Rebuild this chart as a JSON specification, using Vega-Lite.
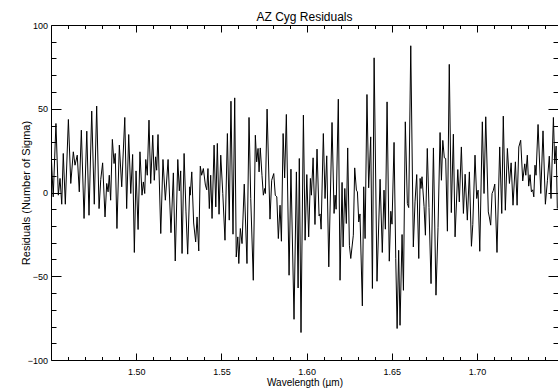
{
"$schema": "https://vega.github.io/schema/vega-lite/v6.json",
"width": 507,
"height": 335,
"autosize": {"type": "none"},
"padding": {"left": 51, "top": 25, "right": 0, "bottom": 29},
"background": "white",
"title": {"text": "AZ Cyg Residuals", "font": "Liberation Sans", "fontSize": 12, "fontWeight": "normal", "color": "black", "anchor": "middle", "offset": -3},
"config": {
  "view": {"stroke": "black", "strokeWidth": 1},
  "axis": {"domain": false, "grid": false, "tickColor": "black", "tickWidth": 1, "labelColor": "black", "labelFont": "Liberation Sans", "labelFontSize": 9, "titleFont": "Liberation Sans", "titleFontWeight": "normal", "titleColor": "black", "labelOverlap": false, "labelFlush": false, "labelBound": false}
},
"data": {"values": [
{"wavelength":1.4500,"residual":25.3},{"wavelength":1.4513,"residual":-2.6},{"wavelength":1.4529,"residual":41.2},{"wavelength":1.4543,"residual":-1.6},{"wavelength":1.4553,"residual":8.4},{"wavelength":1.4563,"residual":-7.0},{"wavelength":1.4572,"residual":23.3},{"wavelength":1.4584,"residual":-7.0},{"wavelength":1.4602,"residual":43.6},{"wavelength":1.4616,"residual":5.4},{"wavelength":1.4631,"residual":24.3},{"wavelength":1.4641,"residual":16.3},{"wavelength":1.4654,"residual":22.3},{"wavelength":1.4666,"residual":0.4},{"wavelength":1.4678,"residual":37.2},{"wavelength":1.4694,"residual":-15.5},{"wavelength":1.4710,"residual":36.6},{"wavelength":1.4723,"residual":-13.6},{"wavelength":1.4739,"residual":48.6},{"wavelength":1.4754,"residual":-7.0},{"wavelength":1.4768,"residual":51.6},{"wavelength":1.4782,"residual":-9.6},{"wavelength":1.4792,"residual":7.8},{"wavelength":1.4803,"residual":17.7},{"wavelength":1.4817,"residual":-14.6},{"wavelength":1.4827,"residual":5.4},{"wavelength":1.4835,"residual":0.4},{"wavelength":1.4842,"residual":10.3},{"wavelength":1.4850,"residual":-4.6},{"wavelength":1.4860,"residual":31.7},{"wavelength":1.4870,"residual":17.3},{"wavelength":1.4877,"residual":23.3},{"wavelength":1.4887,"residual":-21.5},{"wavelength":1.4901,"residual":28.3},{"wavelength":1.4915,"residual":3.4},{"wavelength":1.4933,"residual":44.8},{"wavelength":1.4944,"residual":-9.6},{"wavelength":1.4956,"residual":34.6},{"wavelength":1.4968,"residual":-0.6},{"wavelength":1.4979,"residual":22.7},{"wavelength":1.4989,"residual":-35.8},{"wavelength":1.4999,"residual":12.9},{"wavelength":1.5011,"residual":-22.1},{"wavelength":1.5022,"residual":24.3},{"wavelength":1.5034,"residual":-1.6},{"wavelength":1.5042,"residual":6.3},{"wavelength":1.5050,"residual":-0.6},{"wavelength":1.5056,"residual":19.7},{"wavelength":1.5065,"residual":10.3},{"wavelength":1.5075,"residual":43.2},{"wavelength":1.5085,"residual":5.4},
{"wavelength":1.5097,"residual":34.2},{"wavelength":1.5106,"residual":7.3},{"wavelength":1.5114,"residual":21.3},{"wavelength":1.5120,"residual":13.3},{"wavelength":1.5128,"residual":34.6},{"wavelength":1.5144,"residual":-24.5},{"wavelength":1.5157,"residual":19.7},{"wavelength":1.5171,"residual":-4.6},{"wavelength":1.5187,"residual":19.7},{"wavelength":1.5204,"residual":-24.0},{"wavelength":1.5218,"residual":11.7},{"wavelength":1.5229,"residual":-40.9},{"wavelength":1.5244,"residual":19.7},{"wavelength":1.5253,"residual":1.0},{"wavelength":1.5261,"residual":12.9},{"wavelength":1.5269,"residual":-36.4},{"wavelength":1.5281,"residual":23.3},{"wavelength":1.5292,"residual":-11.6},{"wavelength":1.5302,"residual":-36.8},{"wavelength":1.5314,"residual":3.4},{"wavelength":1.5317,"residual":-1.6},{"wavelength":1.5326,"residual":12.3},{"wavelength":1.5337,"residual":-18.2},{"wavelength":1.5349,"residual":-29.5},{"wavelength":1.5357,"residual":-14.6},{"wavelength":1.5367,"residual":-34.9},{"wavelength":1.5376,"residual":15.7},{"wavelength":1.5384,"residual":10.3},{"wavelength":1.5394,"residual":14.3},{"wavelength":1.5406,"residual":4.4},{"wavelength":1.5414,"residual":1.6},{"wavelength":1.5421,"residual":14.3},{"wavelength":1.5429,"residual":-9.6},{"wavelength":1.5437,"residual":10.3},{"wavelength":1.5445,"residual":-15.5},{"wavelength":1.5457,"residual":28.3},{"wavelength":1.5467,"residual":-8.6},{"wavelength":1.5476,"residual":29.3},{"wavelength":1.5486,"residual":-13.0},{"wavelength":1.5496,"residual":22.3},{"wavelength":1.5508,"residual":-0.6},{"wavelength":1.5521,"residual":-28.5},{"wavelength":1.5535,"residual":35.2},{"wavelength":1.5546,"residual":-16.5},{"wavelength":1.5556,"residual":54.5},{"wavelength":1.5568,"residual":-24.9},{"wavelength":1.5578,"residual":56.5},{"wavelength":1.5587,"residual":-38.5},{"wavelength":1.5596,"residual":-26.5},{"wavelength":1.5602,"residual":-42.4},{"wavelength":1.5611,"residual":-21.5},{"wavelength":1.5621,"residual":-30.5},{"wavelength":1.5634,"residual":5.0},{"wavelength":1.5650,"residual":-42.4},{"wavelength":1.5662,"residual":44.8},{"wavelength":1.5672,"residual":-3.5},
{"wavelength":1.5687,"residual":-52.4},{"wavelength":1.5699,"residual":34.2},{"wavelength":1.5707,"residual":18.3},{"wavelength":1.5715,"residual":26.3},{"wavelength":1.5721,"residual":12.3},{"wavelength":1.5728,"residual":26.6},{"wavelength":1.5738,"residual":10.3},{"wavelength":1.5746,"residual":-1.6},{"wavelength":1.5754,"residual":2.4},{"wavelength":1.5758,"residual":-0.6},{"wavelength":1.5768,"residual":49.8},{"wavelength":1.5785,"residual":-15.9},{"wavelength":1.5795,"residual":7.3},{"wavelength":1.5807,"residual":11.3},{"wavelength":1.5816,"residual":-1.6},{"wavelength":1.5825,"residual":-2.6},{"wavelength":1.5834,"residual":-27.5},{"wavelength":1.5844,"residual":-7.6},{"wavelength":1.5852,"residual":-29.1},{"wavelength":1.5862,"residual":35.2},{"wavelength":1.5871,"residual":8.7},{"wavelength":1.5881,"residual":46.6},{"wavelength":1.5897,"residual":-49.4},{"wavelength":1.5908,"residual":13.9},{"wavelength":1.5926,"residual":-75.7},{"wavelength":1.5940,"residual":12.3},{"wavelength":1.5950,"residual":-57.0},{"wavelength":1.5957,"residual":20.3},{"wavelength":1.5967,"residual":-83.6},{"wavelength":1.5981,"residual":46.2},{"wavelength":1.5991,"residual":-28.5},{"wavelength":1.6001,"residual":10.7},{"wavelength":1.6012,"residual":-26.5},{"wavelength":1.6022,"residual":8.4},{"wavelength":1.6028,"residual":-1.6},{"wavelength":1.6038,"residual":20.7},{"wavelength":1.6049,"residual":-19.1},{"wavelength":1.6061,"residual":25.9},{"wavelength":1.6073,"residual":-14.0},{"wavelength":1.6079,"residual":-12.8},{"wavelength":1.6085,"residual":-21.9},{"wavelength":1.6098,"residual":35.2},{"wavelength":1.6108,"residual":-3.6},{"wavelength":1.6118,"residual":21.9},{"wavelength":1.6130,"residual":-44.4},{"wavelength":1.6149,"residual":41.8},{"wavelength":1.6161,"residual":-12.5},{"wavelength":1.6167,"residual":-1.6},{"wavelength":1.6173,"residual":-10.0},{"wavelength":1.6186,"residual":55.7},{"wavelength":1.6196,"residual":-52.4},{"wavelength":1.6208,"residual":6.0},{"wavelength":1.6214,"residual":-32.5},{"wavelength":1.6224,"residual":2.4},{"wavelength":1.6233,"residual":-18.5},{"wavelength":1.6241,"residual":26.6},{"wavelength":1.6251,"residual":-31.5},{"wavelength":1.6259,"residual":-39.4},
{"wavelength":1.6274,"residual":-25.5},{"wavelength":1.6282,"residual":14.7},{"wavelength":1.6292,"residual":1.4},{"wavelength":1.6298,"residual":0.4},{"wavelength":1.6306,"residual":-17.6},{"wavelength":1.6313,"residual":-12.8},{"wavelength":1.6327,"residual":-67.7},{"wavelength":1.6335,"residual":3.4},{"wavelength":1.6343,"residual":-27.5},{"wavelength":1.6354,"residual":58.5},{"wavelength":1.6364,"residual":2.8},{"wavelength":1.6376,"residual":33.2},{"wavelength":1.6386,"residual":-57.3},{"wavelength":1.6396,"residual":80.4},{"wavelength":1.6413,"residual":-53.0},{"wavelength":1.6431,"residual":7.9},{"wavelength":1.6444,"residual":-35.8},{"wavelength":1.6454,"residual":1.4},{"wavelength":1.6462,"residual":-21.9},{"wavelength":1.6472,"residual":54.1},{"wavelength":1.6485,"residual":-41.0},{"wavelength":1.6494,"residual":-11.2},{"wavelength":1.6501,"residual":-18.9},{"wavelength":1.6513,"residual":29.9},{"wavelength":1.6523,"residual":-39.4},{"wavelength":1.6531,"residual":-81.2},{"wavelength":1.6540,"residual":-34.5},{"wavelength":1.6548,"residual":-79.3},{"wavelength":1.6560,"residual":-25.1},{"wavelength":1.6568,"residual":-58.4},{"wavelength":1.6579,"residual":42.2},{"wavelength":1.6591,"residual":-6.6},{"wavelength":1.6599,"residual":-9.0},{"wavelength":1.6611,"residual":87.6},{"wavelength":1.6626,"residual":-32.5},{"wavelength":1.6636,"residual":-5.6},{"wavelength":1.6646,"residual":10.7},{"wavelength":1.6658,"residual":-39.4},{"wavelength":1.6666,"residual":8.4},{"wavelength":1.6671,"residual":2.4},{"wavelength":1.6677,"residual":9.4},{"wavelength":1.6689,"residual":-8.4},{"wavelength":1.6697,"residual":-25.5},{"wavelength":1.6708,"residual":26.3},{"wavelength":1.6718,"residual":-9.0},{"wavelength":1.6730,"residual":-54.4},{"wavelength":1.6744,"residual":26.6},{"wavelength":1.6759,"residual":-61.3},{"wavelength":1.6771,"residual":-21.0},{"wavelength":1.6783,"residual":35.8},{"wavelength":1.6791,"residual":7.3},{"wavelength":1.6799,"residual":31.1},{"wavelength":1.6808,"residual":20.7},{"wavelength":1.6816,"residual":20.3},{"wavelength":1.6826,"residual":-23.1},{"wavelength":1.6837,"residual":76.5},{"wavelength":1.6849,"residual":-12.0},
{"wavelength":1.6861,"residual":34.8},{"wavelength":1.6871,"residual":-26.5},{"wavelength":1.6887,"residual":13.7},{"wavelength":1.6896,"residual":-5.6},{"wavelength":1.6908,"residual":27.2},{"wavelength":1.6920,"residual":-12.5},{"wavelength":1.6930,"residual":10.9},{"wavelength":1.6943,"residual":-16.5},{"wavelength":1.6955,"residual":12.3},{"wavelength":1.6967,"residual":-32.1},{"wavelength":1.6975,"residual":-19.2},{"wavelength":1.6988,"residual":22.3},{"wavelength":1.6998,"residual":-3.6},{"wavelength":1.7006,"residual":1.4},{"wavelength":1.7016,"residual":-35.1},{"wavelength":1.7031,"residual":42.2},{"wavelength":1.7041,"residual":-0.6},{"wavelength":1.7051,"residual":45.2},{"wavelength":1.7066,"residual":-11.6},{"wavelength":1.7072,"residual":-14.6},{"wavelength":1.7080,"residual":-19.5},{"wavelength":1.7088,"residual":-0.6},{"wavelength":1.7096,"residual":1.4},{"wavelength":1.7104,"residual":5.0},{"wavelength":1.7117,"residual":-35.8},{"wavelength":1.7133,"residual":27.2},{"wavelength":1.7145,"residual":-12.5},{"wavelength":1.7154,"residual":45.6},{"wavelength":1.7166,"residual":-10.6},{"wavelength":1.7178,"residual":26.3},{"wavelength":1.7190,"residual":5.4},{"wavelength":1.7200,"residual":17.7},{"wavelength":1.7211,"residual":-7.6},{"wavelength":1.7225,"residual":18.3},{"wavelength":1.7235,"residual":-7.6},{"wavelength":1.7245,"residual":27.2},{"wavelength":1.7256,"residual":31.2},{"wavelength":1.7268,"residual":6.9},{"wavelength":1.7280,"residual":17.1},{"wavelength":1.7286,"residual":10.3},{"wavelength":1.7295,"residual":22.3},{"wavelength":1.7303,"residual":3.8},{"wavelength":1.7311,"residual":10.6},{"wavelength":1.7319,"residual":0.4},{"wavelength":1.7327,"residual":1.6},{"wavelength":1.7333,"residual":-2.6},{"wavelength":1.7340,"residual":16.3},{"wavelength":1.7346,"residual":10.3},{"wavelength":1.7358,"residual":40.6},{"wavelength":1.7374,"residual":-0.6},{"wavelength":1.7387,"residual":36.8},{"wavelength":1.7401,"residual":-7.0},{"wavelength":1.7413,"residual":7.3},{"wavelength":1.7424,"residual":21.7},{"wavelength":1.7434,"residual":-3.6},{"wavelength":1.7448,"residual":44.8},{"wavelength":1.7456,"residual":17.1},{"wavelength":1.7464,"residual":27.7},{"wavelength":1.7471,"residual":-9.6}
]},
"layer": [
  {
    "mark": {"type": "line", "color": "black", "strokeWidth": 1, "clip": true},
    "encoding": {
      "x": {"field": "wavelength", "type": "quantitative", "scale": {"domain": [1.45, 1.7475], "nice": false, "zero": false},
        "axis": {"orient": "bottom", "title": "Wavelength (µm)", "titleFontSize": 10, "titlePadding": -3,
          "values": [1.46,1.47,1.48,1.49,1.50,1.51,1.52,1.53,1.54,1.55,1.56,1.57,1.58,1.59,1.60,1.61,1.62,1.63,1.64,1.65,1.66,1.67,1.68,1.69,1.70,1.71,1.72,1.73,1.74],
          "labelExpr": "abs(datum.value*20 - round(datum.value*20)) < 0.001 ? format(datum.value, '.2f') : ''",
          "tickSize": {"condition": {"test": "abs(datum.value*20 - round(datum.value*20)) < 0.001", "value": -7}, "value": -3.5},
          "labelPadding": 14.5}},
      "y": {"field": "residual", "type": "quantitative", "scale": {"domain": [-100, 100], "nice": false, "zero": false},
        "axis": {"orient": "left", "title": "Residuals (Number of Sigma)", "titleFontSize": 11, "titlePadding": -4,
          "values": [-100,-90,-80,-70,-60,-50,-40,-30,-20,-10,0,10,20,30,40,50,60,70,80,90,100],
          "labelExpr": "datum.value % 50 == 0 ? datum.label : ''",
          "tickSize": {"condition": {"test": "datum.value % 50 == 0", "value": -10}, "value": -5},
          "labelPadding": 13.5}}
    }
  },
  {
    "mark": {"type": "line", "opacity": 0, "clip": true},
    "encoding": {
      "x": {"field": "wavelength", "type": "quantitative",
        "axis": {"orient": "top", "title": null, "labels": false,
          "values": [1.46,1.47,1.48,1.49,1.50,1.51,1.52,1.53,1.54,1.55,1.56,1.57,1.58,1.59,1.60,1.61,1.62,1.63,1.64,1.65,1.66,1.67,1.68,1.69,1.70,1.71,1.72,1.73,1.74],
          "tickSize": {"condition": {"test": "abs(datum.value*20 - round(datum.value*20)) < 0.001", "value": -7}, "value": -3.5}}},
      "y": {"field": "residual", "type": "quantitative",
        "axis": {"orient": "right", "title": null, "labels": false,
          "values": [-100,-90,-80,-70,-60,-50,-40,-30,-20,-10,0,10,20,30,40,50,60,70,80,90,100],
          "tickSize": {"condition": {"test": "datum.value % 50 == 0", "value": -10}, "value": -5}}}
    }
  }
],
"resolve": {"axis": {"x": "independent", "y": "independent"}}
}
